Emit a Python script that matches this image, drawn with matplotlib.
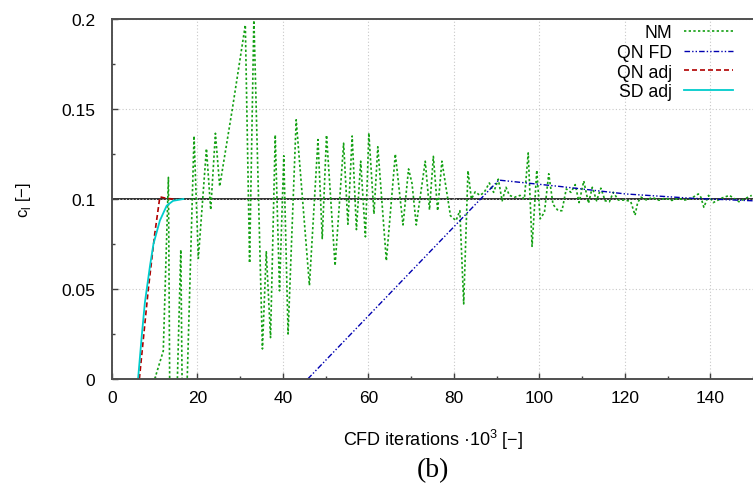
import matplotlib
matplotlib.use("Agg")
import matplotlib.pyplot as plt
from matplotlib.ticker import MultipleLocator

# data (x in 1e3 CFD iterations, y = c_l)
nm_x = [10.0, 12.0, 13.2, 13.5, 14.5, 15.3, 16.1, 16.4, 17.0, 17.6, 19.2, 20.2,
        22.1, 23.1, 24.2, 25.2, 28.2, 31.2, 32.2, 33.2, 35.2, 36.1, 37.1, 38.2,
        39.2, 40.2, 41.2, 43.1, 46.2, 48.2, 49.2, 50.2, 52.2, 54.2, 55.2, 56.2,
        57.2, 58.2, 59.3, 60.1, 61.3, 62.2, 64.2, 66.3, 68.1, 69.4, 70.2, 71.2,
        73.3, 74.3, 75.2, 76.2, 77.2, 79.2, 80.5, 81.4, 82.3, 83.3, 84.1, 85.0,
        86.1, 87.1, 88.3, 89.3, 90.4, 91.3, 92.2, 93.0, 94.2, 95.5, 96.5, 97.4,
        98.3, 99.4, 100.2, 101.2, 102.2, 103.2, 104.4, 105.3, 106.3, 107.4, 108.4,
        109.3, 110.4, 111.5, 112.4, 113.4, 114.4, 115.4, 116.4, 117.3, 118.5,
        120.2, 121.4, 122.4, 123.0, 123.8, 125.0, 126.5, 128.0, 129.5, 131.0,
        132.5, 134.0, 135.5, 137.2, 137.8, 138.5, 139.6, 140.7, 142.8, 144.5,
        146.7, 149.7]
nm_y = [0.0, 0.0156, 0.112, -0.003, -0.03, 0.0, 0.0718, -0.001, -0.02, 0.0, 0.135, 0.067,
        0.128, 0.094, 0.1365, 0.107, 0.1506, 0.1967, 0.0644, 0.2005, 0.0167, 0.0707, 0.023, 0.1356,
        0.049, 0.124, 0.025, 0.144, 0.052, 0.133, 0.078, 0.1355, 0.063, 0.131, 0.086, 0.135,
        0.083, 0.121, 0.079, 0.1367, 0.0917, 0.129, 0.0657, 0.125, 0.0856, 0.1167, 0.1087, 0.0856,
        0.121, 0.094, 0.1237, 0.0935, 0.121, 0.0907, 0.088, 0.0935, 0.0417, 0.1157, 0.1, 0.104,
        0.102, 0.1037, 0.1089, 0.1037, 0.111, 0.099, 0.1065, 0.102, 0.101, 0.102, 0.1, 0.1256,
        0.0737, 0.116, 0.089, 0.0926, 0.114, 0.097, 0.0935, 0.0935, 0.1056, 0.1037, 0.108,
        0.098, 0.110, 0.0976, 0.1065, 0.099, 0.106, 0.099, 0.0985, 0.1037, 0.0994,
        0.0994, 0.0985, 0.091, 0.098, 0.101, 0.0995, 0.1008, 0.0993, 0.1005, 0.0992,
        0.1004, 0.0994, 0.1003, 0.1028, 0.101, 0.0954, 0.102, 0.098, 0.1006, 0.102,
        0.0985, 0.102]

qnfd_x = [45.8, 90.5, 104.7, 120.2, 135.7, 150.0]
qnfd_y = [0.0, 0.1105, 0.107, 0.1028, 0.1004, 0.099]

qnadj_x = [6.4, 8.5, 10.0, 11.2, 12.8, 14.5]
qnadj_y = [0.0, 0.05, 0.0806, 0.1012, 0.1003, 0.1]

sdadj_x = [6.1, 7.0, 7.7, 8.9, 9.7, 11.2, 12.8, 14.3, 16.7]
sdadj_y = [0.0, 0.025, 0.0426, 0.063, 0.075, 0.088, 0.0963, 0.099, 0.1]

target = 0.1
xticks = [0, 20, 40, 60, 80, 100, 120, 140]
yticks = [0, 0.05, 0.1, 0.15, 0.2]
ytick_labels = ["0", "0.05", "0.1", "0.15", "0.2"]

plt.rcParams["font.family"] = ["Liberation Sans", "DejaVu Sans"]

fig = plt.figure(figsize=(7.53, 4.89), dpi=100)
W, H = 753, 489
ax = fig.add_axes([112 / W, 1 - 380 / H, (753 - 112) / W, 360 / H])

ax.axhline(target, color="#202020", lw=1.3, zorder=1.5)
ax.plot(nm_x, nm_y, color="#13a013", lw=1.2, ls=(0, (1.4, 1.4)), label="NM")
ax.plot(qnfd_x, qnfd_y, color="#0000b0", lw=1.0, ls=(0, (4, 1.5, 1, 1.5, 1, 1.5)), label="QN FD")
ax.plot(qnadj_x, qnadj_y, color="#b00000", lw=1.2, ls=(0, (3, 1.8)), label="QN adj")
ax.plot(sdadj_x, sdadj_y, color="#00cccc", lw=1.3, label="SD adj")

ax.set_xlim(0, 150)
ax.set_ylim(0, 0.2)
ax.set_xticks(xticks)
ax.set_yticks(yticks)
ax.set_yticklabels(ytick_labels)
ax.xaxis.set_minor_locator(MultipleLocator(10))
ax.yaxis.set_minor_locator(MultipleLocator(0.025))
ax.tick_params(which="both", direction="in", labelsize=12.5, colors="#404040", labelcolor="black")
ax.tick_params(which="major", length=4, width=1.0)
ax.tick_params(which="minor", length=2.5, width=1.0)
ax.tick_params(axis="y", pad=12)
ax.tick_params(axis="x", pad=8)

ax.grid(True, which="major", color="#c8c8c8", lw=0.8, ls=(0, (1, 2)))
for side in ("left", "bottom", "top"):
    ax.spines[side].set_color("#505050")
    ax.spines[side].set_linewidth(1.4)
ax.spines["right"].set_visible(False)

ax.set_ylabel("c$_\\mathregular{l}$ [\u2212]", fontsize=12)
ax.yaxis.set_label_coords((33 - 112) / 641, 0.5)
ax.set_xlabel("CFD iterations \u00b710$^\\mathregular{3}$ [\u2212]", fontsize=13)
ax.xaxis.set_label_coords((433 - 112) / 641, (380 - 428) / 360)

fig.text(433 / W, 1 - 471 / H, "(b)", fontsize=20, family="Liberation Serif",
         ha="center", va="center")

leg = ax.legend(loc="upper right", bbox_to_anchor=(733 / W, 1 - 25 / H),
                bbox_transform=fig.transFigure, frameon=False, markerfirst=False,
                fontsize=12.7, handlelength=2.75, handletextpad=0.7, labelspacing=0.16,
                borderpad=0, borderaxespad=0)

fig.savefig("out.png", dpi=100)
